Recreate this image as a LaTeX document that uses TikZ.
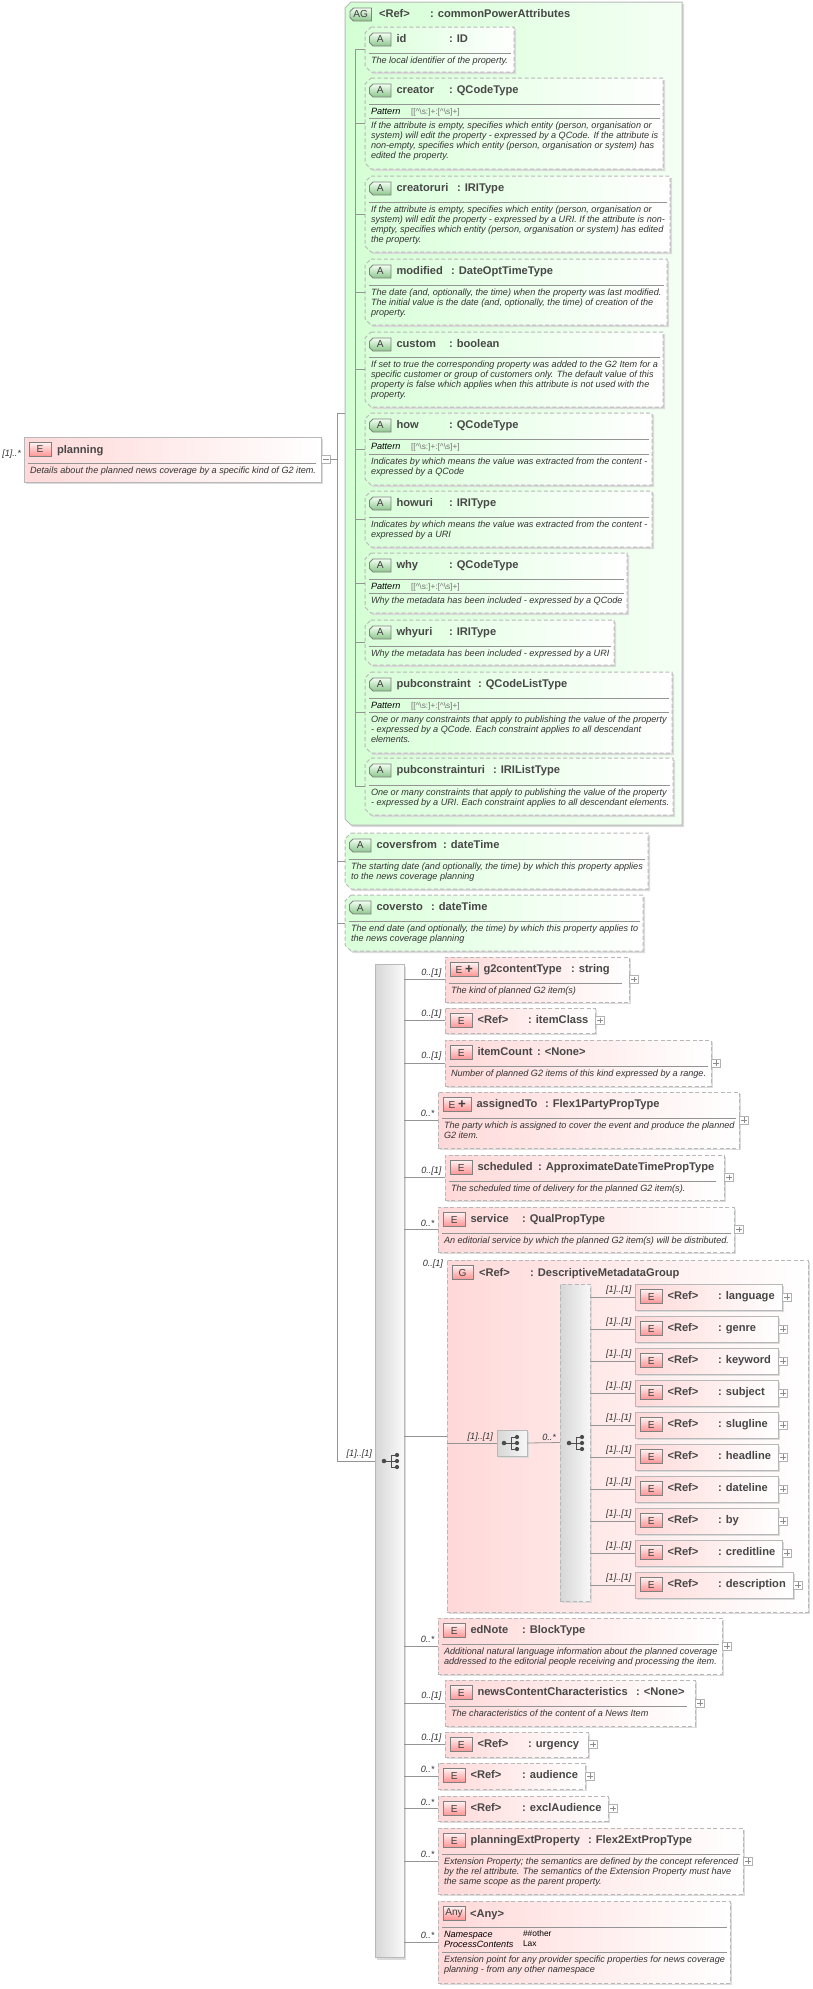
\documentclass[tikz,border=0pt]{standalone}
\usepackage{fontspec}
\setmainfont{Liberation Sans}
\usetikzlibrary{positioning,shadows}
\colorlet{myred}{red!15}
\colorlet{mygreen}{green!15}
\colorlet{myline}{black!28}
\colorlet{myconn}{black!42}
\colorlet{mytext}{black!72}
\newcommand\titlefont{\fontsize{8.35}{10}\selectfont\bfseries}
\newcommand\docfont{\fontsize{6.83}{7.5}\selectfont\itshape}
\tikzstyle{shade box}=[line width=0.75pt,draw=myline,
                       drop shadow={shadow xshift=1.5pt,shadow yshift=-1.5pt,fill=black!14,draw=none,opacity=1}]
\tikzstyle{plain}=[rectangle,inner sep=0,outer sep=0]
\tikzstyle{elembox}=[plain,shade box,left color=myred,right color=white]
\tikzstyle{attrbox}=[shade box,left color=mygreen,right color=white]
\tikzstyle{opt}=[dash pattern=on 3pt off 1.8pt]
\tikzstyle{icon label}=[plain,text=black!75,font=\fontsize{7.6}{9}\selectfont]
\tikzstyle{e icon}=[icon label,line width=0.6pt,draw=black!50,top color=red!6,bottom color=red!42]
\tikzstyle{a icon}=[line width=0.6pt,draw=black!50,top color=green!5,bottom color=green!50!black!45]
\tikzstyle{title}=[inner sep=0,outer sep=0,anchor=base west,text=mytext,font=\titlefont]
\tikzstyle{doc}=[inner sep=0,outer sep=0,anchor=north west,align=left,text=black!80,font=\docfont]
\tikzstyle{occ}=[inner sep=0,outer sep=0,anchor=east,text=black!80,font=\docfont]
\tikzstyle{sepline}=[black!42,line width=0.7pt]
\tikzstyle{conn}=[myconn,line width=0.6pt]
\tikzstyle{plusbox}=[plain,minimum size=6.2pt,draw=black!30,line width=0.5pt,fill=white]
\tikzstyle{signline}=[black!45,line width=0.45pt]
\newcommand\xsdbox[6]{ % style, name, left, top, right, bottom
  \pgfmathsetmacro\bw{(#5-#3)*0.75}
  \pgfmathsetmacro\bh{(#6-#4)*0.75}
  \node[#1,minimum width=\bw pt,minimum height=\bh pt] (#2) at ({(#3+#5)/2},{(#4+#6)/2}) {};
  \def\bn{#2}\def\bx{#3}\def\by{#4}\def\br{#5}
}
\newcommand\xsdchamf[6]{ % same, left corners cut
  \xsdbox{plain}{#2}{#3}{#4}{#5}{#6}
  \path[#1] ({#3+6},#4) -- (#5,#4) -- (#5,#6) -- ({#3+6},#6) -- (#3,{#6-6}) -- (#3,{#4+6}) -- cycle;
}
\newcommand\xsdicon[4]{ % style, text, x offset, width
  \pgfmathsetmacro\iw{#4*0.75}
  \pgfmathsetmacro\ix{\bx+#3+#4/2}
  \pgfmathsetmacro\tx{\bx+#3+#4+5.5}
  \node[#1,minimum width=\iw pt,minimum height=10pt] (\bn-icon) at (\ix,{\by+12.5}) {#2};
}
\newcommand\xsdaicon[3]{ % text, x offset, width
  \pgfmathsetmacro\ix{\bx+#2+#3/2}
  \pgfmathsetmacro\tx{\bx+#2+#3+5.5}
  \pgfmathsetmacro\il{\bx+#2}
  \pgfmathsetmacro\ir{\bx+#2+#3}
  \path[a icon] ({\il+3.5},{\by+6}) -- (\ir,{\by+6}) -- (\ir,{\by+19}) -- ({\il+3.5},{\by+19})
    -- (\il,{\by+15.5}) -- (\il,{\by+9.5}) -- cycle;
  \node[icon label] (\bn-icon) at (\ix,{\by+12.5}) {#1};
}
\newcommand\xsdname[3]{ % title, colon x, type
  \node[title] (\bn-name) at (\tx,{\by+15.5}) {#1};
  \node[title] (\bn-type) at (#2,{\by+15.5}) {: #3};
}
\newcommand\ahead[3]{\xsdaicon{A}{4.5}{21.5}\xsdname{#1}{#2}{#3}}
\newcommand\ehead[3]{\xsdicon{e icon}{E}{5.5}{21.5}\xsdname{#1}{#2}{#3}}
\newcommand\eplus[3]{\xsdicon{e icon}{E {\fontsize{10}{9}\selectfont\textbf{+}}}{5.5}{27.5}\xsdname{#1}{#2}{#3}}
\newcommand\xsdsep[2][3.5]{\draw[sepline] ({\bx+4},{\by+#2}) -- ({\br-#1},{\by+#2});}
\newcommand\xsddoc[3][3.5]{ % right inset, y offset of first line, lines
  \xsdsep[#1]{#2-8}
  \node[doc] (\bn-doc) at ({\bx+6},{\by+#2-4.6}) {\rule{0pt}{5.5pt}#3};
}
\newcommand\xsdpattern{
  \xsdsep{26}
  \node[doc,text=black] (\bn-pat) at ({\bx+6},{\by+29.4}) {\rule{0pt}{5.5pt}Pattern};
  \node[doc,text=black!55,font=\fontsize{6.2}{7}\selectfont] (\bn-patv) at ({\bx+46},{\by+29.6})
    {\rule{0pt}{5.2pt}[[\textasciicircum\textbackslash s:]+:[\textasciicircum\textbackslash s]+]};
}
\newcommand\plusmark{
  \node[plusbox,right=0.6pt of \bn] (\bn-plus) {};
  \draw[signline] (\bn-plus.center) ++(-2.8,0) -- ++(5.6,0);
  \draw[signline] (\bn-plus.center) ++(0,-2.8) -- ++(0,5.6);
}
\newcommand\xsdlink[2]{ % bar, occurrence
  \draw[conn] (#1.east |- \bn.west) -- (\bn.west);
  \path (\bn.west) ++(-3.5,-6.5) node[occ] (\bn-occ) {#2};
}
\newcommand\treeicon[2]{ % x, y
  \draw[black!70,line width=0.7pt] (#1,#2) -- ++(7,0) ++(0,-6) -- ++(0,12) ++(0,-12) -- ++(6,0) ++(-6,6) -- ++(6,0) ++(-6,6) -- ++(6,0);
  \fill[black!70] (#1,#2) circle (1.7pt) ({#1+13},{#2-6}) circle (1.6pt) ({#1+13},#2) circle (1.6pt) ({#1+13},{#2+6}) circle (1.6pt);
}
\begin{document}
\begin{tikzpicture}[x=0.75pt,y=-0.75pt]
  \useasboundingbox (0,0) rectangle (813,1989);
  \coordinate (mainrail) at (337,460);
  \coordinate (attrail) at (355,460);

  % ATTRIBUTE GROUP
  \xsdchamf{attrbox,left color=green!17,right color=green!4}{attgroup}{345}{2}{682}{825}
  \xsdaicon{AG}{5}{21.5}
  \node[title] (attgroup-name) at ({\tx+2},17.5) {<Ref>};
  \node[title] (attgroup-type) at (430,17.5) {: commonPowerAttributes};

  % ATTRIBUTES
  \xsdchamf{attrbox,opt}{id}{365}{27}{514}{72}
  \ahead{id}{449}{ID}
  \xsddoc{34}{The local identifier of the property.}

  \xsdchamf{attrbox,opt}{creator}{365}{78}{663}{169}
  \ahead{creator}{449}{QCodeType}
  \xsdpattern
  \xsddoc{48}{If the attribute is empty, specifies which entity (person, organisation or\\
    system) will edit the property - expressed by a QCode. If the attribute is\\
    non-empty, specifies which entity (person, organisation or system) has\\
    edited the property.}

  \xsdchamf{attrbox,opt}{creatoruri}{365}{176}{670}{252}
  \ahead{creatoruri}{457}{IRIType}
  \xsddoc{34}{If the attribute is empty, specifies which entity (person, organisation or\\
    system) will edit the property - expressed by a URI. If the attribute is non-\\
    empty, specifies which entity (person, organisation or system) has edited\\
    the property.}

  \xsdchamf{attrbox,opt}{modified}{365}{259}{667}{325}
  \ahead{modified}{451}{DateOptTimeType}
  \xsddoc{34}{The date (and, optionally, the time) when the property was last modified.\\
    The initial value is the date (and, optionally, the time) of creation of the\\
    property.}

  \xsdchamf{attrbox,opt}{custom}{365}{332}{663}{407}
  \ahead{custom}{449}{boolean}
  \xsddoc{33}{If set to true the corresponding property was added to the G2 Item for a\\
    specific customer or group of customers only. The default value of this\\
    property is false which applies when this attribute is not used with the\\
    property.}

  \xsdchamf{attrbox,opt}{how}{365}{413}{652}{485}
  \ahead{how}{449}{QCodeType}
  \xsdpattern
  \xsddoc{49}{Indicates by which means the value was extracted from the content -\\
    expressed by a QCode}

  \xsdchamf{attrbox,opt}{howuri}{365}{491}{652}{547}
  \ahead{howuri}{449}{IRIType}
  \xsddoc{34}{Indicates by which means the value was extracted from the content -\\
    expressed by a URI}

  \xsdchamf{attrbox,opt}{why}{365}{553}{627}{613}
  \ahead{why}{449}{QCodeType}
  \xsdpattern
  \xsddoc{48}{Why the metadata has been included - expressed by a QCode}

  \xsdchamf{attrbox,opt}{whyuri}{365}{620}{614}{665}
  \ahead{whyuri}{449}{IRIType}
  \xsddoc{34}{Why the metadata has been included - expressed by a URI}

  \xsdchamf{attrbox,opt}{pubconstraint}{365}{672}{672}{753}
  \ahead{pubconstraint}{478}{QCodeListType}
  \xsdpattern
  \xsddoc{48}{One or many constraints that apply to publishing the value of the property\\
    - expressed by a QCode. Each constraint applies to all descendant\\
    elements.}

  \xsdchamf{attrbox,opt}{pubconstrainturi}{365}{758}{673}{815}
  \ahead{pubconstrainturi}{493}{IRIListType}
  \xsddoc{35}{One or many constraints that apply to publishing the value of the property\\
    - expressed by a URI. Each constraint applies to all descendant elements.}

  \draw[conn] (attrail |- id.west) -- (attrail |- pubconstrainturi.west);
  \foreach \a in {id,creator,creatoruri,modified,custom,how,howuri,why,whyuri,pubconstraint,pubconstrainturi}{
    \draw[conn] (attrail |- \a.west) -- (\a.west);
  }

  \xsdchamf{attrbox,opt}{coversfrom}{345}{833}{648}{889}
  \ahead{coversfrom}{443}{dateTime}
  \xsddoc{34}{The starting date (and optionally, the time) by which this property applies\\
    to the news coverage planning}

  \xsdchamf{attrbox,opt}{coversto}{345}{895}{643}{951}
  \ahead{coversto}{431}{dateTime}
  \xsddoc{34}{The end date (and optionally, the time) by which this property applies to\\
    the news coverage planning}

  % SEQUENCE BAR
  \node[plain,shade box,left color=black!16,right color=black!2,minimum width=21.75pt,minimum height=744.75pt]
    (seqbar) at (389.5,1461) {};
  \treeicon{384}{1461}

  % ROOT ELEMENT
  \xsdbox{elembox}{planning}{24}{437}{321}{482}
  \xsdicon{e icon}{E}{5}{22}
  \node[title] (planning-name) at ({\tx+0.5},453) {planning};
  \xsddoc[5]{34}{Details about the planned news coverage by a specific kind of G2 item.}
  \node[occ] (planning-occ) at (21,454) {[1]..*};
  \node[plusbox,right=0.6pt of planning] (planning-minus) {};
  \draw[signline] (planning-minus.center) ++(-2.8,0) -- ++(5.6,0);

  % STEM
  \draw[conn] (planning-minus.east) -- (mainrail |- planning-minus.east);
  \draw[conn] (mainrail |- attgroup.west) -- (mainrail |- seqbar.west);
  \foreach \a in {attgroup,coversfrom,coversto}{
    \draw[conn] (mainrail |- \a.west) -- (\a.west);
  }
  \draw[conn] (mainrail |- seqbar.west) -- (seqbar.west);
  \node[occ] (seqbar-occ) at (372,1454) {[1]..[1]};

  % ELEMENTS
  \xsdbox{elembox,opt}{g2contentType}{445}{957}{629}{1002}
  \eplus{g2contentType}{571}{string}
  \xsddoc[7]{34}{The kind of planned G2 item(s)}
  \xsdlink{seqbar}{0..[1]}\plusmark

  \xsdbox{elembox,opt}{itemClass}{445}{1008}{595}{1033}
  \ehead{<Ref>}{528}{itemClass}
  \xsdlink{seqbar}{0..[1]}\plusmark

  \xsdbox{elembox,opt}{itemCount}{445}{1040}{711}{1086}
  \ehead{itemCount}{537}{<None>}
  \xsddoc{34}{Number of planned G2 items of this kind expressed by a range.}
  \xsdlink{seqbar}{0..[1]}\plusmark

  \xsdbox{elembox,opt}{assignedTo}{438}{1092}{739}{1148}
  \eplus{assignedTo}{545}{Flex1PartyPropType}
  \xsddoc{34}{The party which is assigned to cover the event and produce the planned\\
    G2 item.}
  \xsdlink{seqbar}{0..*}\plusmark

  \xsdbox{elembox,opt}{scheduled}{445}{1155}{724}{1200}
  \ehead{scheduled}{538}{ApproximateDateTimePropType}
  \xsddoc[8]{34}{The scheduled time of delivery for the planned G2 item(s).}
  \xsdlink{seqbar}{0..[1]}\plusmark

  \xsdbox{elembox,opt}{service}{438}{1207}{734}{1252}
  \ehead{service}{522}{QualPropType}
  \xsddoc{34}{An editorial service by which the planned G2 item(s) will be distributed.}
  \xsdlink{seqbar}{0..*}\plusmark

  % DESCRIPTIVE GROUP
  \xsdbox{elembox,opt}{metagroup}{447}{1260}{808}{1612}
  \xsdicon{e icon}{G}{5}{21}
  \node[title] (metagroup-name) at ({\tx+0.5},1276) {<Ref>};
  \node[title] (metagroup-type) at (530,1276) {: DescriptiveMetadataGroup};
  \draw[conn] (seqbar.east |- metagroup.west) -- (metagroup.west);
  \node[occ] (metagroup-occ) at (443,1264) {0..[1]};

  \node[plain,shade box,left color=black!16,right color=black!3,minimum width=22.5pt,minimum height=19.5pt]
    (choicebox) at (512,1443) {};
  \treeicon{504}{1443}
  \node[plain,shade box,opt,left color=black!16,right color=black!3,minimum width=22.5pt,minimum height=237.75pt]
    (metabar) at (575,1442.5) {};
  \treeicon{569}{1443}
  \draw[conn] (metagroup.west |- choicebox.west) -- (choicebox.west);
  \draw[conn] (choicebox.east) -- (metabar.west);
  \node[occ] (choicebox-occ) at (493,1437) {[1]..[1]};
  \node[occ] (metabar-occ) at (556,1437) {0..*};

  \foreach \nm/\tp/\rt in {language/1284/782,genre/1316/778,keyword/1348/778,subject/1380/778,slugline/1412/778,
                           headline/1444/778,dateline/1476/778,by/1508/778,creditline/1540/782,description/1572/793}{
    \xsdbox{elembox}{\nm}{635}{\tp}{\rt}{\tp+26}
    \ehead{<Ref>}{718}{\nm}
    \xsdlink{metabar}{[1]..[1]}\plusmark
  }

  % MORE ELEMENTS
  \xsdbox{elembox,opt}{edNote}{438}{1618}{722}{1674}
  \ehead{edNote}{522}{BlockType}
  \xsddoc{34}{Additional natural language information about the planned coverage\\
    addressed to the editorial people receiving and processing the item.}
  \xsdlink{seqbar}{0..*}\plusmark

  \xsdbox{elembox,opt}{newsContentCharacteristics}{445}{1680}{695}{1726}
  \ehead{newsContentCharacteristics}{636}{<None>}
  \xsddoc[8]{34}{The characteristics of the content of a News Item}
  \xsdlink{seqbar}{0..[1]}\plusmark

  \xsdbox{elembox,opt}{urgency}{445}{1732}{588}{1757}
  \ehead{<Ref>}{528}{urgency}
  \xsdlink{seqbar}{0..[1]}\plusmark

  \xsdbox{elembox,opt}{audience}{438}{1763}{585}{1789}
  \ehead{<Ref>}{522}{audience}
  \xsdlink{seqbar}{0..*}\plusmark

  \xsdbox{elembox,opt}{exclAudience}{438}{1796}{608}{1821}
  \ehead{<Ref>}{522}{exclAudience}
  \xsdlink{seqbar}{0..*}\plusmark

  \xsdbox{elembox,opt}{planningExtProperty}{438}{1828}{743}{1894}
  \ehead{planningExtProperty}{588}{Flex2ExtPropType}
  \xsddoc{34}{Extension Property; the semantics are defined by the concept referenced\\
    by the rel attribute. The semantics of the Extension Property must have\\
    the same scope as the parent property.}
  \xsdlink{seqbar}{0..*}\plusmark

  % ANY
  \xsdbox{elembox,opt}{anyother}{438}{1901}{730}{1983}
  \xsdicon{e icon}{Any}{5}{22}
  \node[title] (anyother-name) at ({\tx-0.5},1917) {<Any>};
  \xsdsep{26}
  \node[doc,text=black] (anyother-keys) at (444,1930.4) {\rule{0pt}{5.5pt}Namespace\\ProcessContents};
  \node[doc,text=black,font=\fontsize{6.3}{7.5}\selectfont] (anyother-vals) at (523,1929.6)
    {\rule{0pt}{5.5pt}\#\#other\\Lax};
  \xsddoc{59}{Extension point for any provider specific properties for news coverage\\
    planning - from any other namespace}
  \xsdlink{seqbar}{0..*}
\end{tikzpicture}
\end{document}
